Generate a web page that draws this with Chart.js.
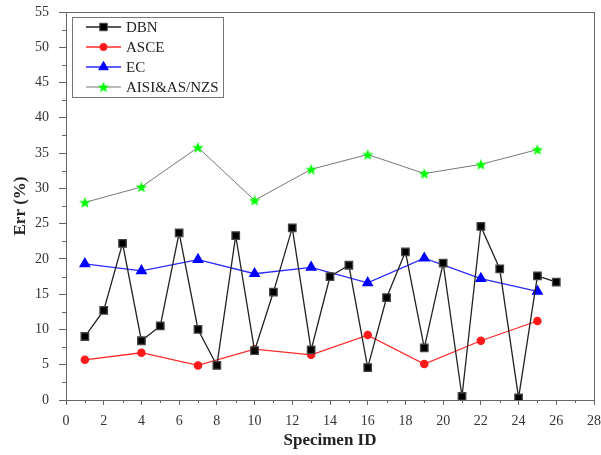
<!DOCTYPE html>
<html>
<head>
<meta charset="utf-8">
<script src="https://cdn.jsdelivr.net/npm/chart.js@4/dist/chart.umd.min.js"></script>
<style>
  html, body { margin: 0; padding: 0; background: #fff; }
  canvas { display: block; }
</style>
</head>
<body>
<canvas id="errChart" width="601" height="455"></canvas>
<script>
// === data ===
const dbnIds = [1, 2, 3, 4, 5, 6, 7, 8, 9, 10, 11, 12, 13, 14, 15, 16, 17, 18, 19, 20, 21, 22, 23, 24, 25, 26];
const dbnErr = [9.0, 12.7, 22.2, 8.4, 10.5, 23.7, 10.0, 4.9, 23.3, 7.0, 15.3, 24.4, 7.1, 17.5, 19.1, 4.6, 14.5, 21.0, 7.4, 19.4, 0.5, 24.6, 18.6, 0.3, 17.6, 16.7];

const codeIds = [1, 4, 7, 10, 13, 16, 19, 22, 25];
const asceErr = [5.7, 6.7, 4.9, 7.2, 6.4, 9.2, 5.1, 8.4, 11.2];
const ecErr = [19.3, 18.3, 19.9, 17.9, 18.8, 16.6, 20.1, 17.2, 15.4];
const aisiErr = [28.0, 30.2, 35.8, 28.3, 32.7, 34.8, 32.1, 33.4, 35.5];

const seriesNames = ["DBN", "ASCE", "EC", "AISI&AS/NZS"];

const toPoints = (xs, ys) => xs.map((x, i) => ({ x, y: ys[i] }));

// filled five-point star used as the AISI marker
function makeStar(size, fill) {
  const c = document.createElement("canvas");
  c.width = size; c.height = size;
  const g = c.getContext("2d");
  const cx = size / 2, cy = size / 2 + 0.5, R = size / 2, r = R * 0.42;
  g.beginPath();
  for (let i = 0; i < 10; i++) {
    const rad = i % 2 === 0 ? R : r;
    const a = -Math.PI / 2 + i * Math.PI / 5;
    g.lineTo(cx + rad * Math.cos(a), cy + rad * Math.sin(a));
  }
  g.closePath();
  g.fillStyle = fill;
  g.fill();
  return c;
}
const starImg = makeStar(12, "#00ff00");

const FONT = "'Liberation Serif', 'DejaVu Serif', serif";

// frame, minor ticks and the boxed legend
const decorations = {
  id: "decorations",
  afterDraw(chart) {
    const { ctx, chartArea: a, scales: { x, y } } = chart;
    ctx.save();
    ctx.strokeStyle = "#666";
    ctx.lineWidth = 1;
    ctx.strokeRect(a.left + 0.5, a.top + 0.5, a.right - a.left, a.bottom - a.top);

    ctx.beginPath();
    for (let v = 1; v < 28; v += 2) {
      const px = Math.round(x.getPixelForValue(v)) + 0.5;
      ctx.moveTo(px, a.bottom); ctx.lineTo(px, a.bottom + 3);
    }
    for (let v = 2.5; v < 55; v += 5) {
      const py = Math.round(y.getPixelForValue(v)) + 0.5;
      ctx.moveTo(a.left, py); ctx.lineTo(a.left - 4, py);
    }
    ctx.stroke();

    // legend
    const bx = 72, by = 17, bw = 151, bh = 80;
    ctx.strokeStyle = "#777";
    ctx.strokeRect(bx + 0.5, by + 0.5, bw, bh);
    ctx.font = "15px " + FONT;
    ctx.textBaseline = "middle";
    chart.data.datasets.forEach((ds, i) => {
      const ly = 27 + i * 20;
      ctx.strokeStyle = ds.borderColor;
      ctx.lineWidth = ds.borderWidth;
      ctx.beginPath();
      ctx.moveTo(86, ly); ctx.lineTo(121, ly);
      ctx.stroke();
      ctx.fillStyle = ds.pointBackgroundColor;
      ctx.strokeStyle = ds.pointBorderColor;
      ctx.lineWidth = 1;
      Chart.helpers.drawPoint(ctx, { pointStyle: ds.pointStyle, radius: ds.pointRadius, rotation: 0, borderWidth: 1 }, 103.5, ly);
      ctx.fillStyle = "#222";
      ctx.fillText(ds.label, 126, ly + 1);
    });
    ctx.restore();
  }
};

new Chart(document.getElementById("errChart").getContext("2d"), {
  type: "line",
  data: {
    datasets: [
      {
        label: seriesNames[0],
        data: toPoints(dbnIds, dbnErr),
        borderColor: "#222",
        borderWidth: 1.3,
        pointStyle: "rect",
        pointRadius: 5.3,
        pointBackgroundColor: "#000",
        pointBorderColor: "#444",
        tension: 0
      },
      {
        label: seriesNames[1],
        data: toPoints(codeIds, asceErr),
        borderColor: "#ff2a2a",
        borderWidth: 1.3,
        pointStyle: "circle",
        pointRadius: 3.6,
        pointBackgroundColor: "#ff1a1a",
        pointBorderColor: "#ff1a1a",
        tension: 0
      },
      {
        label: seriesNames[2],
        data: toPoints(codeIds, ecErr),
        borderColor: "#2a2aff",
        borderWidth: 1.3,
        pointStyle: "triangle",
        pointRadius: 5.5,
        pointBackgroundColor: "#0000ff",
        pointBorderColor: "#0000ff",
        tension: 0
      },
      {
        label: seriesNames[3],
        data: toPoints(codeIds, aisiErr),
        borderColor: "#777",
        borderWidth: 1,
        pointStyle: starImg,
        pointRadius: 6,
        pointBackgroundColor: "#00ff00",
        pointBorderColor: "#00ff00",
        tension: 0
      }
    ]
  },
  options: {
    responsive: false,
    animation: false,
    layout: { padding: { top: 12, right: 5, left: 0, bottom: 0 } },
    plugins: { legend: { display: false }, tooltip: { enabled: false } },
    scales: {
      x: {
        type: "linear",
        min: 0,
        max: 28,
        afterFit: s => { s.height = 55; s.paddingLeft = 0; s.paddingRight = 0; },
        ticks: { stepSize: 2, color: "#333", font: { family: FONT, size: 14 }, padding: 8, maxRotation: 0 },
        grid: { display: true, drawOnChartArea: false, drawTicks: true, tickLength: 5, color: "#666" },
        border: { color: "#666" },
        title: { display: true, text: "Specimen ID", color: "#222", font: { family: FONT, size: 17, weight: "bold" }, padding: { top: 0, bottom: 4 } }
      },
      y: {
        min: 0,
        max: 55,
        afterFit: s => { s.width = 66; s.paddingTop = 0; s.paddingBottom = 0; },
        ticks: { stepSize: 5, color: "#333", font: { family: FONT, size: 14 }, padding: 10 },
        grid: { display: true, drawOnChartArea: false, drawTicks: true, tickLength: 7, color: "#666" },
        border: { color: "#666" },
        title: { display: true, text: "Err (%)", color: "#222", font: { family: FONT, size: 17, weight: "bold" }, padding: { top: 10, bottom: 0 } }
      }
    }
  },
  plugins: [decorations]
});
</script>
</body>
</html>
